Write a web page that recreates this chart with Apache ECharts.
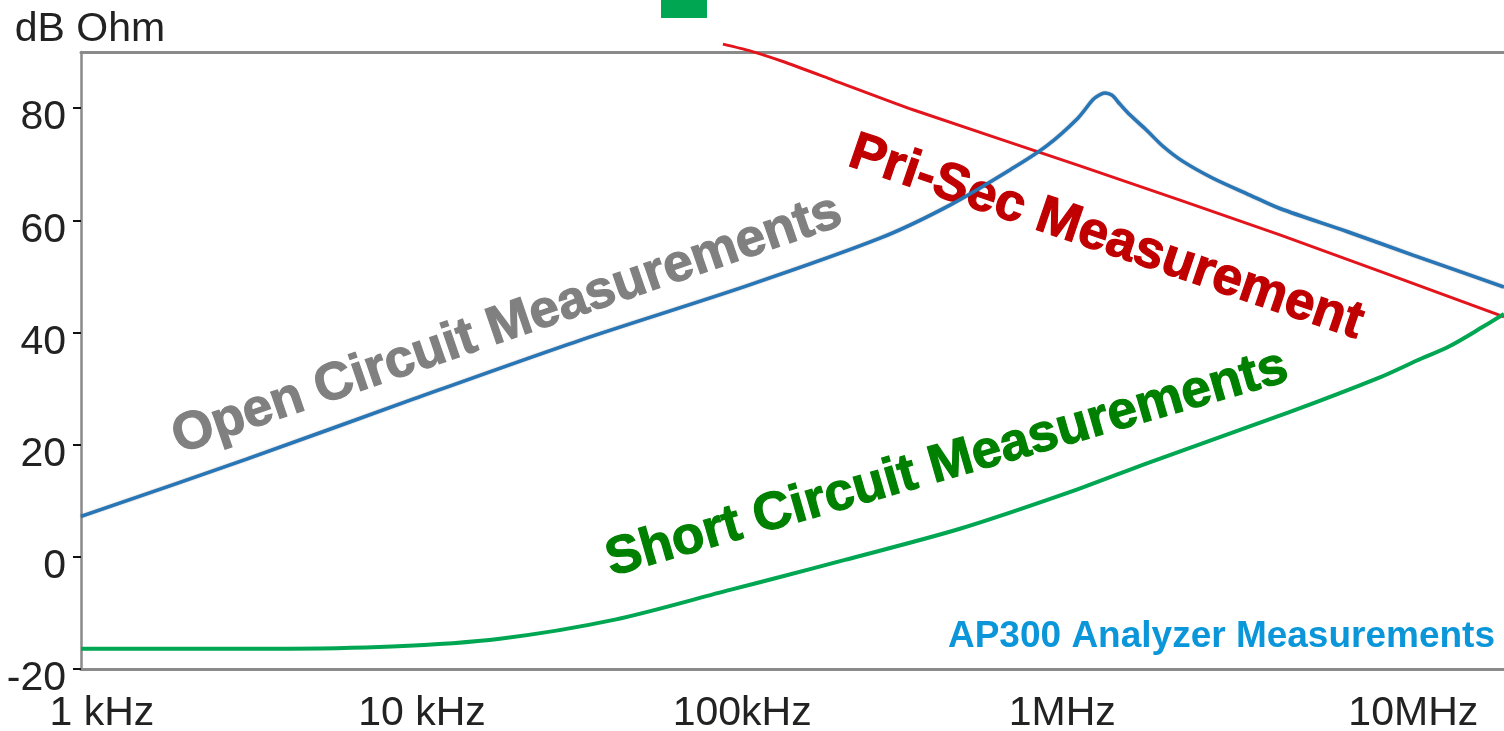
<!DOCTYPE html>
<html>
<head>
<meta charset="utf-8">
<title>Transformer impedance</title>
<script src="https://cdn.jsdelivr.net/npm/echarts@6/dist/echarts.min.js"></script>
<style>
  html, body { margin: 0; padding: 0; background: #ffffff; }
  #chart { width: 1504px; height: 731px; }
</style>
</head>
<body>
<div id="chart"></div>
<script>
// Frequency axis range (Hz) and tick labels
const freqMin = 860;
const freqMax = 24000000;
const xTickValues = [1000, 10000, 100000, 1000000, 10000000];
const xTickLabels = ['1 kHz', '10 kHz', '100kHz', '1MHz', '10MHz'];
const yTickValues = [-20, 0, 20, 40, 60, 80];

// Open circuit impedance (dB Ohm)
const openFreq = [860, 2830, 9370, 31140, 103300, 269500, 445900, 701500, 896000,
  1119000, 1247000, 1302000, 1360000, 1430000, 1515000, 1627000, 1839000, 2064000,
  2383000, 2957000, 3858000, 4788000, 7752000, 12460000, 24000000];
const openDb = [7.2, 17.4, 28.1, 38.6, 48.3, 56.8, 62.7, 69.3, 73.3,
  78.2, 81.5, 82.3, 82.7, 82.3, 80.7, 78.8, 76.0, 73.2,
  70.5, 67.5, 64.5, 62.1, 58.0, 53.8, 48.1];

// Primary-to-secondary impedance (dB Ohm)
const priSecFreq = [87100, 105800, 134100, 192200, 341700, 1136000, 4788000, 24000000];
const priSecDb = [91.4, 90.2, 88.3, 85.0, 79.7, 69.7, 57.4, 42.8];

// Short circuit impedance (dB Ohm)
const shortFreq = [860, 3397, 8054, 17510, 40050, 91600, 131300, 208000, 479000,
  1088000, 1866000, 5072000, 9829000, 12830000, 16150000, 20620000, 24000000];
const shortDb = [-16.4, -16.4, -16.0, -14.6, -11.2, -5.9, -3.6, -0.6, 5.0,
  11.8, 16.8, 25.7, 32.0, 35.0, 37.5, 41.0, 43.3];

const pairs = (xs, ys) => xs.map((x, i) => [x, ys[i]]);
const FONT = "'Liberation Sans', Arial, Helvetica, sans-serif";
const AXIS_GRAY = '#8a8a8a';

function tickLabel(v) {
  const i = xTickValues.findIndex(t => Math.abs(t - v) / t < 1e-6);
  if (i < 0) return '';
  return i === xTickValues.length - 1 ? '{shift|' + xTickLabels[i] + '}' : xTickLabels[i];
}

function note(text, x, y, deg, color, size, weight, align) {
  return {
    type: 'text',
    x: x, y: y,
    rotation: deg * Math.PI / 180,
    style: {
      text: text,
      fill: color,
      stroke: weight > 0 ? color : null,
      lineWidth: weight,
      fontFamily: FONT,
      fontWeight: 'bold',
      fontSize: size,
      textAlign: align || 'center',
      textVerticalAlign: 'middle'
    }
  };
}

const chart = echarts.init(document.getElementById('chart'), null, { renderer: 'canvas' });

chart.setOption({
  animation: false,
  backgroundColor: '#ffffff',
  grid: { left: 81, right: 0, top: 52, bottom: 62, containLabel: false, outerBoundsMode: 'none' },
  xAxis: [{
    type: 'log',
    logBase: 10,
    min: freqMin,
    max: freqMax,
    position: 'bottom',
    axisLine: { show: true, onZero: false, lineStyle: { color: AXIS_GRAY, width: 3 } },
    axisTick: { show: false },
    splitLine: { show: false },
    axisLabel: {
      customValues: xTickValues,
      formatter: tickLabel,
      fontFamily: FONT,
      fontSize: 41,
      color: '#222222',
      margin: 24,
      rich: { shift: { fontFamily: FONT, fontSize: 41, color: '#222222', padding: [0, 0, 0, 62] } }
    }
  }, {
    type: 'log',
    logBase: 10,
    min: freqMin,
    max: freqMax,
    position: 'top',
    axisLine: { show: true, onZero: false, lineStyle: { color: AXIS_GRAY, width: 3 } },
    axisTick: { show: false },
    axisLabel: { show: false },
    splitLine: { show: false }
  }],
  yAxis: {
    type: 'value',
    min: -20,
    max: 90,
    interval: 20,
    name: 'dB Ohm',
    nameLocation: 'end',
    nameGap: 2,
    nameTextStyle: { fontFamily: FONT, fontSize: 41, color: '#222222', align: 'center', padding: [0, 0, 0, 18] },
    axisLine: { show: true, onZero: false, lineStyle: { color: AXIS_GRAY, width: 2.5 } },
    axisTick: { show: true, customValues: yTickValues, length: 8, lineStyle: { color: '#111111', width: 2 } },
    splitLine: { show: false },
    axisLabel: {
      customValues: yTickValues,
      fontFamily: FONT,
      fontSize: 41,
      color: '#222222',
      margin: 15,
      verticalAlign: 'top',
      lineHeight: 20
    }
  },
  series: [{
    name: 'Open Circuit',
    type: 'line',
    data: pairs(openFreq, openDb),
    showSymbol: false,
    smooth: 0.3,
    lineStyle: { color: '#2676b8', width: 3.5, shadowColor: 'rgba(40,40,40,0.45)', shadowBlur: 1.5 },
    z: 3
  }, {
    name: 'Pri-Sec',
    type: 'line',
    data: pairs(priSecFreq, priSecDb),
    showSymbol: false,
    smooth: 0.2,
    clip: false,
    lineStyle: { color: '#e3141c', width: 3 },
    z: 2
  }, {
    name: 'Short Circuit',
    type: 'line',
    data: pairs(shortFreq, shortDb),
    showSymbol: false,
    smooth: 0.3,
    lineStyle: { color: '#00a651', width: 4 },
    z: 4
  }],
  graphic: [
    {
      type: 'rect',
      x: 661, y: 0,
      shape: { width: 46, height: 18 },
      style: { fill: '#00a651' }
    },
    note('Open Circuit Measurements', 507, 325, 19.0, '#808080', 53, 1.2),
    note('Pri-Sec Measurement', 1106, 238, -18.8, '#c00000', 53, 1.2),
    note('Short Circuit Measurements', 947, 464, 16.1, '#008000', 53, 1.2),
    note('AP300 Analyzer Measurements', 1495, 637, 0, '#0a96d8', 37, 0, 'right')
  ]
});
</script>
</body>
</html>
